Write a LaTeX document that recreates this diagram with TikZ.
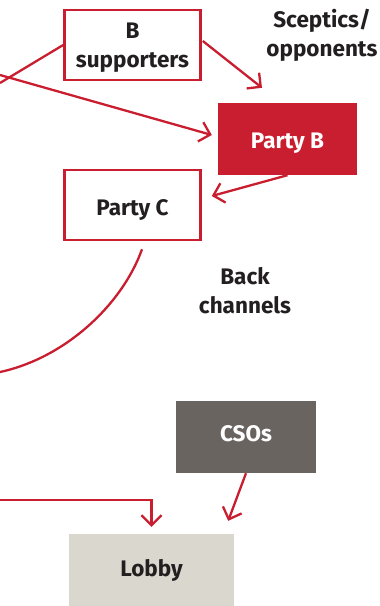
\documentclass[tikz,border=0pt]{standalone}
\usepackage{fontspec}
\setmainfont{Fira Sans}
\usetikzlibrary{arrows.meta,calc}
\definecolor{myred}{HTML}{C91E2F}
\definecolor{mygray}{HTML}{6A6461}
\definecolor{mybeige}{HTML}{DAD7CF}
\definecolor{mytext}{HTML}{231F20}
\tikzset{
  every node/.style={font=\fontsize{22.5}{29}\selectfont\bfseries, align=center, text=mytext},
  outlinebox/.style={draw=myred, line width=2.6pt, fill=white, minimum width=136pt, minimum height=70pt, inner sep=0pt},
  redbox/.style={fill=myred, text=white, minimum width=139pt, minimum height=72pt, inner sep=0pt},
  graybox/.style={fill=mygray, text=white, minimum width=140pt, minimum height=72pt, inner sep=0pt},
  beigebox/.style={fill=mybeige, minimum width=165pt, minimum height=72pt, inner sep=0pt},
  lowertext/.style={execute at begin node={\rule{0pt}{#1}}},
  raisetext/.style={execute at end node={\rule[-#1]{0pt}{0pt}}},
  link/.style={draw=myred, line width=2.3pt},
  arr/.style={link, -{Straight Barb[length=10pt,width=20pt]}},
}
\begin{document}
\begin{tikzpicture}[x=1pt,y=-1pt]
\useasboundingbox (0,0) rectangle (380,606);
\node[outlinebox] (bsup) at (132.5,45) {\rule{0pt}{20.5pt}B\\supporters};
\node[redbox, lowertext=24.5pt] (partyB) at (287.5,139) {Party B};
\node[outlinebox, lowertext=25.5pt] (partyC) at (132.5,205) {Party C};
\node[graybox, raisetext=6pt] (csos) at (246,437) {CSOs};
\node[beigebox] (lobby) at (151.5,570) {Lobby};
\node (scep) at (322,35) {Sceptics/\\opponents};
\node (back) at (245,291) {Back\\channels};
\coordinate (c1) at (0,83);
\coordinate (c2) at (0,75);
\coordinate (c3) at (0,500);
\coordinate (c4) at (0,372);
\draw[link] (c1) -- (bsup.west);
\draw[arr] (c2) -- ($(partyB.west)+(-6,-4)$);
\draw[arr] ($(bsup.east)+(1,-4)$) -- ($(partyB.north)+(-25.5,-15)$);
\draw[arr] (partyB.south) -- ($(partyC.east)+(10,-9)$);
\draw[link] ($(partyC.south)+(9.5,8)$) .. controls (122,305) and (65,358) .. (c4);
\draw[arr, shorten >=7pt] (c3) -| (lobby.north);
\draw[arr] (csos.south) -- ($(lobby.north east)+(-6,-13)$);
\end{tikzpicture}
\end{document}
